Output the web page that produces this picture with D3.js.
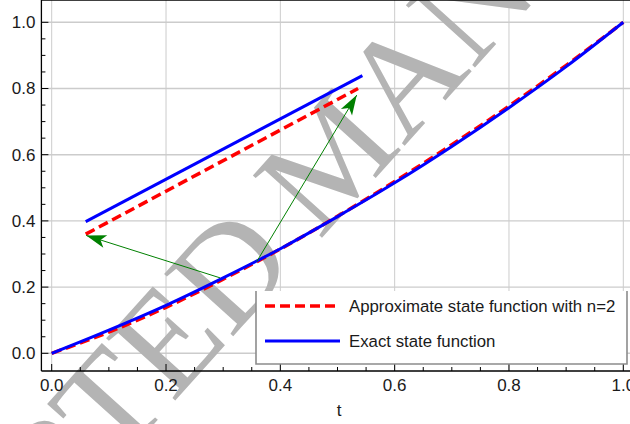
<!DOCTYPE html>
<html>
<head>
  <meta charset="UTF-8">
  <title>State function</title>
  <style>
    body { margin: 0; background: #fff; }
    svg { display: block; font-family: "Liberation Sans", Arial, sans-serif; }
    .tickLabel { font-size: 17px; fill: #1a1a1a; }
    .legendText { font-size: 16.8px; fill: #1a1a1a; }
    .watermark { font-family: "Liberation Serif", "DejaVu Serif", serif; font-size: 142px; fill: #b4b4b4; }
  </style>
</head>
<body>
<svg width="630" height="424"></svg>

<script src="https://d3js.org/d3.v7.min.js"></script>
<script>

let width = 630, height = 424;

let svg = d3.select("svg")
    .attr("viewBox", "0 0 " + width + " " + height)

// values
var tValues      = [0, 0.1, 0.2, 0.3, 0.4, 0.5, 0.6, 0.7, 0.8, 0.9, 1.0];
var exactValues  = [0, 0.070, 0.145, 0.228, 0.316, 0.413, 0.515, 0.625, 0.742, 0.866, 1.0];
var approxValues = [0, 0.064, 0.139, 0.224, 0.315, 0.414, 0.519, 0.630, 0.747, 0.870, 1.0];

// magnified piece drawn above the curves
var zoomExactT  = [0.0595, 0.5435];
var zoomExactY  = [0.398, 0.839];
var zoomApproxT = [0.0595, 0.536];
var zoomApproxY = [0.360, 0.800];

var arrowFrom = [[0.2945, 0.228], [0.3587, 0.277]];
var arrowTo   = [[0.0604, 0.356], [0.5337, 0.780]];

var xTicks = [0, 0.2, 0.4, 0.6, 0.8, 1.0];
var yTicks = [0, 0.2, 0.4, 0.6, 0.8, 1.0];
var minorTicks = d3.range(0, 21).map(i => i * 0.05);
var legendLabels = ["Approximate state function with n=2", "Exact state function"];

var x = d3.scaleLinear().domain([0, 1]).range([51.7, 623.3]);
var y = d3.scaleLinear().domain([0, 1]).range([353.3, 22.3]);
var xMin = -0.018, xMax = 1.03, yMin = -0.0535, yMax = 1.053;

var left = x(xMin), right = x(xMax), top = y(yMax), bottom = y(yMin);

svg.append("rect").attr("width", width).attr("height", height).attr("fill", "#fff");

// grid
var grid = svg.append("g").attr("stroke", "#cccccc");
grid.selectAll("line.h").data(yTicks).enter().append("line")
    .attr("x1", left).attr("x2", right)
    .attr("y1", d => y(d)).attr("y2", d => y(d))
    .attr("stroke-width", 1.4);
grid.selectAll("line.v").data(xTicks).enter().append("line")
    .attr("x1", d => x(d)).attr("x2", d => x(d))
    .attr("y1", top).attr("y2", bottom)
    .attr("stroke-width", 1);

// watermark
var wm = svg.append("g")
    .attr("class", "watermark")
    .attr("transform", "translate(275,221) rotate(-48)");
wm.append("text").attr("x", -15).attr("y", 46).attr("text-anchor", "end").text("ACCEPTED");
wm.append("text").attr("x", 15).attr("y", 46).attr("text-anchor", "start").text("MANUSCRIPT");

// arrow head
svg.append("defs").append("marker")
    .attr("id", "head")
    .attr("markerUnits", "userSpaceOnUse")
    .attr("viewBox", "-22 -8 24 16")
    .attr("markerWidth", 24).attr("markerHeight", 16)
    .attr("refX", 0).attr("refY", 0)
    .attr("orient", "auto")
  .append("path")
    .attr("d", "M0,0 L-20,-6.5 L-15,0 L-20,6.5 Z")
    .attr("fill", "#008000");

var line = d3.line()
    .x(d => x(d[0]))
    .y(d => y(d[1]))
    .curve(d3.curveMonotoneX);

var plot = svg.append("g").attr("fill", "none");

// approximate (red dashed) then exact (blue) on top
plot.append("path")
    .attr("d", line(d3.zip(tValues, approxValues)))
    .attr("stroke", "#ff0000").attr("stroke-width", 3.5).attr("stroke-dasharray", "10,5");
plot.append("path")
    .attr("d", line(d3.zip(tValues, exactValues)))
    .attr("stroke", "#0000ff").attr("stroke-width", 3);

plot.append("path")
    .attr("d", line(d3.zip(zoomExactT, zoomExactY)))
    .attr("stroke", "#0000ff").attr("stroke-width", 3);
plot.append("path")
    .attr("d", line(d3.zip(zoomApproxT, zoomApproxY)))
    .attr("stroke", "#ff0000").attr("stroke-width", 3.5).attr("stroke-dasharray", "10,5");

// arrows
plot.selectAll("line.arrow").data(d3.zip(arrowFrom, arrowTo)).enter().append("line")
    .attr("x1", d => x(d[0][0])).attr("y1", d => y(d[0][1]))
    .attr("x2", d => x(d[1][0])).attr("y2", d => y(d[1][1]))
    .attr("stroke", "#008000").attr("stroke-width", 1)
    .attr("marker-end", "url(#head)");

// frame and ticks
var frame = svg.append("g").attr("stroke", "#000");
frame.append("line").attr("x1", left).attr("x2", left).attr("y1", top).attr("y2", bottom).attr("stroke-width", 1.3);
frame.append("line").attr("x1", left).attr("x2", right).attr("y1", bottom).attr("y2", bottom).attr("stroke-width", 1.3);
frame.append("line").attr("x1", left).attr("x2", right).attr("y1", top).attr("y2", top).attr("stroke-width", 1.3);

function tickLen(d) {
  return Math.abs(Math.round(d * 100) % 20) === 0 ? 7 : 4;
}
frame.selectAll("line.yt").data(minorTicks).enter().append("line")
    .attr("x1", left).attr("x2", d => left + tickLen(d))
    .attr("y1", d => y(d)).attr("y2", d => y(d)).attr("stroke-width", 1);
frame.selectAll("line.xb").data(minorTicks).enter().append("line")
    .attr("x1", d => x(d)).attr("x2", d => x(d))
    .attr("y1", bottom).attr("y2", d => bottom - tickLen(d)).attr("stroke-width", 1);
frame.selectAll("line.xt").data(minorTicks).enter().append("line")
    .attr("x1", d => x(d)).attr("x2", d => x(d))
    .attr("y1", top).attr("y2", d => top + tickLen(d)).attr("stroke-width", 1);

svg.selectAll("text.xl").data(xTicks).enter().append("text")
    .attr("class", "tickLabel")
    .attr("x", d => x(d)).attr("y", 390.5)
    .attr("text-anchor", "middle")
    .text(d => d.toFixed(1));
svg.selectAll("text.yl").data(yTicks).enter().append("text")
    .attr("class", "tickLabel")
    .attr("x", 35.5).attr("y", d => y(d))
    .attr("dy", "0.35em")
    .attr("text-anchor", "end")
    .text(d => d.toFixed(1));

svg.append("text")
    .attr("class", "tickLabel")
    .attr("x", 339).attr("y", 416)
    .attr("text-anchor", "middle")
    .text("t");

// legend
var lg = svg.append("g");
lg.append("rect").attr("x", 256).attr("y", 291).attr("width", 371).attr("height", 73).attr("fill", "#fff");
lg.append("path")
    .attr("d", "M256,291 V364 H627 V291")
    .attr("fill", "none").attr("stroke", "#8c8c8c").attr("stroke-width", 1.6);

var entries = lg.selectAll("g.entry").data(legendLabels).enter().append("g")
    .attr("transform", (d, i) => "translate(0," + (306 + i * 35) + ")");
entries.append("line")
    .attr("x1", 265).attr("x2", (d, i) => i === 0 ? 337 : 340)
    .attr("stroke", (d, i) => i === 0 ? "#ff0000" : "#0000ff")
    .attr("stroke-width", (d, i) => i === 0 ? 3.5 : 3)
    .attr("stroke-dasharray", (d, i) => i === 0 ? "10,5" : null);
entries.append("text")
    .attr("class", "legendText")
    .attr("x", 349).attr("dy", "0.35em")
    .text(d => d);

</script>
</body>
</html>
